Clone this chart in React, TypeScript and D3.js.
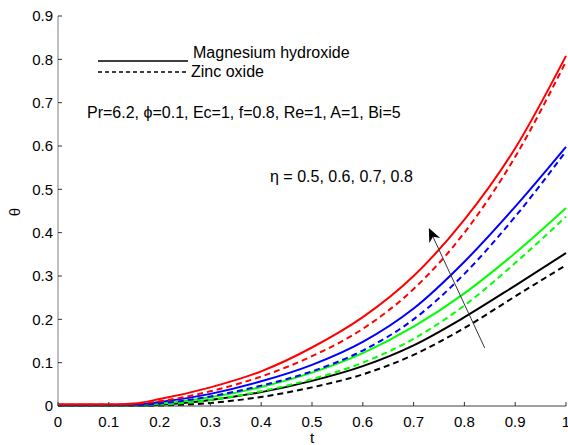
import React from "react";
import * as d3 from "d3";

const tValues = [0, 0.1, 0.15, 0.2, 0.3, 0.4, 0.5, 0.6, 0.7, 0.8, 0.9, 1.0];
const redSolid = [0.004, 0.004, 0.006, 0.016, 0.043, 0.08, 0.135, 0.205, 0.3, 0.43, 0.595, 0.808];
const redDashed = [0.003, 0.003, 0.005, 0.011, 0.034, 0.068, 0.115, 0.178, 0.27, 0.4, 0.575, 0.795];
const blueSolid = [0.002, 0.002, 0.003, 0.009, 0.028, 0.057, 0.095, 0.148, 0.225, 0.333, 0.46, 0.598];
const blueDashed = [0.002, 0.002, 0.002, 0.006, 0.022, 0.047, 0.08, 0.128, 0.2, 0.305, 0.437, 0.588];
const greenSolid = [0.001, 0.001, 0.002, 0.005, 0.02, 0.044, 0.077, 0.122, 0.183, 0.26, 0.353, 0.457];
const greenDashed = [0.001, 0.001, 0.001, 0.003, 0.014, 0.034, 0.062, 0.1, 0.155, 0.232, 0.33, 0.437];
const blackSolid = [0.001, 0.001, 0.001, 0.003, 0.014, 0.032, 0.058, 0.092, 0.14, 0.205, 0.278, 0.353];
const blackDashed = [0, 0, 0, 0.001, 0.007, 0.021, 0.043, 0.073, 0.118, 0.18, 0.253, 0.325];

const xTicks = [0, 0.1, 0.2, 0.3, 0.4, 0.5, 0.6, 0.7, 0.8, 0.9, 1];
const yTicks = [0, 0.1, 0.2, 0.3, 0.4, 0.5, 0.6, 0.7, 0.8, 0.9];

const legendLabels = ["Magnesium hydroxide", "Zinc oxide"];
const paramText = "Pr=6.2, \u03d5=0.1, Ec=1, f=0.8, Re=1, A=1, Bi=5";
const etaText = "\u03b7 = 0.5, 0.6, 0.7, 0.8";

const series = [
  { values: blackSolid, color: "#000000", dashed: false },
  { values: blackDashed, color: "#000000", dashed: true },
  { values: greenSolid, color: "#00ff00", dashed: false },
  { values: greenDashed, color: "#00ff00", dashed: true },
  { values: blueSolid, color: "#0000ff", dashed: false },
  { values: blueDashed, color: "#0000ff", dashed: true },
  { values: redSolid, color: "#ff0000", dashed: false },
  { values: redDashed, color: "#ff0000", dashed: true },
];

export default function App() {
  const W = 568;
  const H = 445;
  const left = 58;
  const right = 566;
  const top = 16;
  const bottom = 406;
  const x = d3.scaleLinear().domain([0, 1]).range([left, right]);
  const y = d3.scaleLinear().domain([0, 0.9]).range([bottom, top]);
  const line = d3
    .line<number>()
    .x((_, i) => x(tValues[i]))
    .y((d) => y(d))
    .curve(d3.curveMonotoneX);

  const font = "'Liberation Sans', Arial, sans-serif";
  const fs = 15;
  const fsText = 16;

  // arrow in data coords
  const arrowFrom = { t: 0.84, v: 0.134 };
  const arrowTo = { t: 0.73, v: 0.411 };
  const ax1 = x(arrowFrom.t), ay1 = y(arrowFrom.v);
  const ax2 = x(arrowTo.t), ay2 = y(arrowTo.v);
  const ang = Math.atan2(ay2 - ay1, ax2 - ax1);
  const hl = 14, hw = 6;
  const bx = ax2 - hl * Math.cos(ang), by = ay2 - hl * Math.sin(ang);
  const nx = -Math.sin(ang), ny = Math.cos(ang);
  const notch = 0.7;
  const mx = ax2 - hl * notch * Math.cos(ang), my = ay2 - hl * notch * Math.sin(ang);
  const head = `M${ax2},${ay2} L${bx + nx * hw},${by + ny * hw} L${mx},${my} L${bx - nx * hw},${by - ny * hw} Z`;

  return (
    <svg
      width={W}
      height={H}
      style={{ position: "absolute", left: 0, top: 0, background: "#fff" }}
      fontFamily={font}
      fontSize={fs}
    >
      <rect x={0} y={0} width={W} height={H} fill="#fff" />
      {/* curves */}
      {series.map((s, i) => (
        <path
          key={i}
          d={line(s.values) || ""}
          fill="none"
          stroke={s.color}
          strokeWidth={2}
          strokeDasharray={s.dashed ? "6,4" : undefined}
        />
      ))}
      {/* axes */}
      <line x1={left} y1={top} x2={left} y2={bottom} stroke="#808080" strokeWidth={1} />
      <line x1={left} y1={bottom} x2={right} y2={bottom} stroke="#404040" strokeWidth={1} />
      {yTicks.map((v) => (
        <g key={"y" + v}>
          <line x1={left} x2={left + 4} y1={y(v)} y2={y(v)} stroke="#333" />
          <text x={left - 5} y={y(v)} dy="0.35em" textAnchor="end" fill="#000">
            {v === 0 ? "0" : v.toFixed(1)}
          </text>
        </g>
      ))}
      {xTicks.map((v) => (
        <g key={"x" + v}>
          <line x1={x(v)} x2={x(v)} y1={bottom} y2={bottom - 4} stroke="#333" />
          <text x={x(v)} y={bottom + 21} textAnchor="middle" fill="#000">
            {v === 0 ? "0" : v === 1 ? "1" : v.toFixed(1)}
          </text>
        </g>
      ))}
      <text x={x(0.5)} y={443} textAnchor="middle" fill="#000">t</text>
      <text transform={`translate(20,212) rotate(-90)`} textAnchor="middle" fill="#000">
        {"\u03b8"}
      </text>
      {/* legend */}
      <g fontSize={fsText}>
        <line x1={98} x2={188} y1={61} y2={61} stroke="#000" strokeWidth={1.5} />
        <text x={193} y={58} fill="#000">{legendLabels[0]}</text>
        <line x1={98} x2={188} y1={72} y2={72} stroke="#000" strokeWidth={1.5} strokeDasharray="4,3" />
        <text x={191} y={77} fill="#000">{legendLabels[1]}</text>
        {/* annotations */}
        <text x={87} y={118} fill="#000">{paramText}</text>
        <text x={270} y={182} fill="#000">{etaText}</text>
      </g>
      <line x1={ax1} y1={ay1} x2={mx} y2={my} stroke="#333" strokeWidth={1} />
      <path d={head} fill="#000" />
    </svg>
  );
}
